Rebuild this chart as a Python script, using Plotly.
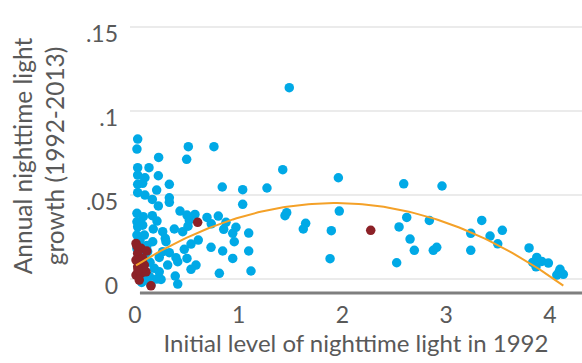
import numpy as np
import plotly.graph_objects as go

# Initial nighttime light level (1992) and annual growth 1992-2013
blue_x = [0.026, 0.019, 0.514, 0.761, 0.228, 0.498, 0.026, 0.135, 0.026, 0.096,
          0.225, 0.026, 0.074, 0.331, 0.841, 0.209, 0.026, 0.096, 0.167, 0.331,
          0.331, 0.225, 0.019, 0.080, 0.167, 0.434, 0.501, 0.578, 0.694, 0.803,
          0.877, 0.019, 0.212, 0.523, 0.735, 0.026, 0.074, 0.176, 0.379, 0.511,
          0.855, 0.267, 0.460, 0.942, 0.019, 0.090, 0.292, 0.171, 0.957, 0.610,
          0.540, 0.299, 0.733, 0.475, 0.267, 0.331, 0.845, 0.122, 0.234, 0.395,
          0.501, 0.412, 0.942, 0.315, 0.588, 0.540, 0.186, 0.813, 0.234, 0.388,
          0.251, 0.090, 0.412, 0.154, 0.048, 0.116, 0.019, 0.145, 0.096, 0.140,
          0.210, 0.065,
          1.487, 1.424, 1.960, 2.590, 2.959, 1.038, 1.272, 1.038, 1.462, 1.446,
          1.969, 2.619, 0.973, 1.096, 1.645, 1.622, 1.892, 2.545, 2.651, 1.096,
          1.880, 1.118, 2.522, 2.837, 2.692, 2.875, 2.908, 3.236, 3.342, 3.236,
          3.422, 3.540, 3.496, 3.798, 3.872, 3.833, 3.920, 3.984, 3.865, 4.096,
          4.065, 4.128, 4.087]
blue_y = [0.0833, 0.0774, 0.0788, 0.0788, 0.0724, 0.0713, 0.0663, 0.0663, 0.0619, 0.0603,
          0.0615, 0.0564, 0.0570, 0.0564, 0.0548, 0.0530, 0.0514, 0.0500, 0.0474, 0.0484,
          0.0457, 0.0435, 0.0391, 0.0371, 0.0377, 0.0405, 0.0381, 0.0385, 0.0367, 0.0375,
          0.0338, 0.0341, 0.0345, 0.0351, 0.0329, 0.0311, 0.0321, 0.0298, 0.0298, 0.0315,
          0.0296, 0.0282, 0.0282, 0.0272, 0.0262, 0.0262, 0.0242, 0.0222, 0.0222, 0.0232,
          0.0208, 0.0222, 0.0189, 0.0177, 0.0163, 0.0157, 0.0167, 0.0163, 0.0129, 0.0127,
          0.0123, 0.0103, 0.0123, 0.0083, 0.0083, 0.0058, 0.0064, 0.0034, 0.0043, 0.0018,
          -0.0002, -0.0006, -0.0030, -0.0036, 0.0230, 0.0200, 0.0180, 0.0100, 0.0140, 0.0015,
          0.0000, -0.0020,
          0.1139, 0.0651, 0.0603, 0.0567, 0.0554, 0.0532, 0.0542, 0.0445, 0.0395, 0.0377,
          0.0405, 0.0367, 0.0308, 0.0274, 0.0332, 0.0298, 0.0288, 0.0310, 0.0238, 0.0167,
          0.0121, 0.0048, 0.0097, 0.0349, 0.0171, 0.0171, 0.0189, 0.0272, 0.0349, 0.0171,
          0.0256, 0.0290, 0.0210, 0.0185, 0.0129, 0.0099, 0.0105, 0.0095, 0.0073, 0.0058,
          0.0024, 0.0028, 0.0042]

red_x = [0.604, 2.272, 0.010, 0.058, 0.113, 0.026, 0.010, 0.074, 0.026, 0.090,
         0.010, 0.058, 0.106, 0.041, 0.154, 0.019, 0.048, 0.077, 0.029]
red_y = [0.0338, 0.0290, 0.0212, 0.0183, 0.0167, 0.0153, 0.0113, 0.0123, 0.0073, 0.0083,
         0.0024, 0.0034, 0.0043, -0.0006, -0.0040, 0.0196, 0.0101, 0.0065, 0.0054]

# Quadratic trend: growth = c0 + c1*light + c2*light^2
fit_coef = [0.0077, 0.0390, -0.01013]

y_tickvals = [0, 0.05, 0.1, 0.15]
y_ticktext = ["0", ".05", ".1", ".15"]
x_tickvals = [0, 1, 2, 3, 4]

BLUE = "#00A9E6"
RED = "#8C2127"
ORANGE = "#F4A128"
TEXT = "#595959"
FONT = "Lato"

all_x = np.array(blue_x + red_x)
fit_x = np.linspace(all_x.min(), all_x.max(), 120)
fit_y = fit_coef[0] + fit_coef[1] * fit_x + fit_coef[2] * fit_x ** 2

fig = go.Figure()
fig.add_trace(go.Scatter(x=blue_x, y=blue_y, mode="markers",
                         marker=dict(color=BLUE, size=9.5, line=dict(width=0)),
                         hoverinfo="x+y"))
fig.add_trace(go.Scatter(x=red_x, y=red_y, mode="markers",
                         marker=dict(color=RED, size=9.5, line=dict(width=0)),
                         hoverinfo="x+y"))
fig.add_trace(go.Scatter(x=fit_x, y=fit_y, mode="lines",
                         line=dict(color=ORANGE, width=2), hoverinfo="skip"))

fig.update_layout(
    width=582, height=363,
    margin=dict(l=130, r=0, t=19, b=70),
    paper_bgcolor="white", plot_bgcolor="white",
    showlegend=False,
    font=dict(family=FONT, size=23, color=TEXT),
    xaxis=dict(
        range=[-0.048, 4.308],
        tickvals=x_tickvals,
        ticks="", showgrid=False, zeroline=False, showline=False,
        tickfont=dict(size=23, color=TEXT),
        ticklabelstandoff=6,
        title=dict(text="Initial level of nighttime light in 1992",
                   font=dict(size=24, color=TEXT), standoff=8),
    ),
    yaxis=dict(
        range=[-0.0083, 0.1548],
        tickvals=y_tickvals, ticktext=y_ticktext,
        ticks="", showgrid=True, gridcolor="#EBEBEB", gridwidth=1.5,
        zeroline=False, showline=False,
        tickfont=dict(size=23, color=TEXT),
        ticklabelstandoff=11,
        ticklabelshift=7,
        title=dict(text="Annual nighttime light<br>growth (1992-2013)",
                   font=dict(size=24.5, color=TEXT), standoff=14),
    ),
    shapes=[dict(type="line", xref="paper", yref="paper",
                 x0=0.022, x1=1, y0=0, y1=0,
                 line=dict(color="#7F7F7F", width=3))],
)

fig.write_html("out.html")
